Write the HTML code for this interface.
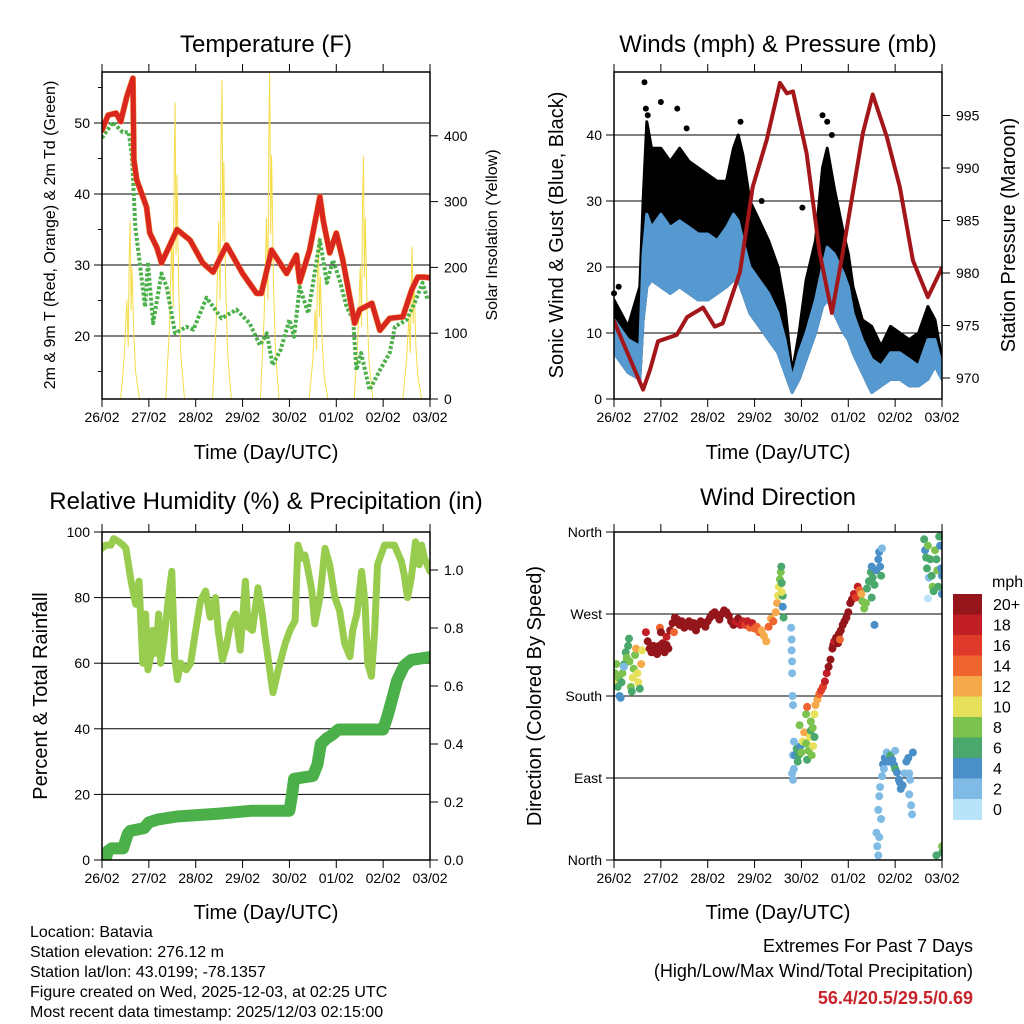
<!DOCTYPE html>
<html><head><meta charset="utf-8"><style>
html,body{margin:0;padding:0;background:#fff;}
svg{display:block;font-family:"Liberation Sans",Arial,sans-serif;}
</style></head><body>
<svg id="chart" width="1024" height="1024" viewBox="0 0 1024 1024" xmlns="http://www.w3.org/2000/svg">
<rect x="0" y="0" width="1024" height="1024" fill="#fff"/>
<text x="266" y="52" font-size="24" text-anchor="middle">Temperature (F)</text>
<text x="778" y="52" font-size="24" text-anchor="middle">Winds (mph) &amp; Pressure (mb)</text>
<text x="266" y="509" font-size="24" text-anchor="middle">Relative Humidity (%) &amp; Precipitation (in)</text>
<text x="778" y="505" font-size="24" text-anchor="middle">Wind Direction</text>
<text transform="translate(55,235) rotate(-90)" font-size="16" text-anchor="middle">2m &amp; 9m T (Red, Orange) &amp; 2m Td (Green)</text>
<text transform="translate(497,235) rotate(-90)" font-size="16" text-anchor="middle">Solar Insolation (Yellow)</text>
<text transform="translate(563,235) rotate(-90)" font-size="20" text-anchor="middle">Sonic Wind &amp; Gust (Blue, Black)</text>
<text transform="translate(1015,235) rotate(-90)" font-size="20" text-anchor="middle">Station Pressure (Maroon)</text>
<text transform="translate(47,696) rotate(-90)" font-size="20" text-anchor="middle">Percent &amp; Total Rainfall</text>
<text transform="translate(541,696) rotate(-90)" font-size="20" text-anchor="middle">Direction (Colored By Speed)</text>
<text x="266" y="459" font-size="20" text-anchor="middle">Time (Day/UTC)</text>
<text x="778" y="459" font-size="20" text-anchor="middle">Time (Day/UTC)</text>
<text x="266" y="919" font-size="20" text-anchor="middle">Time (Day/UTC)</text>
<text x="778" y="919" font-size="20" text-anchor="middle">Time (Day/UTC)</text>
<g font-size="16">
<text x="30" y="937">Location: Batavia</text>
<text x="30" y="957">Station elevation: 276.12 m</text>
<text x="30" y="977">Station lat/lon: 43.0199; -78.1357</text>
<text x="30" y="997">Figure created on Wed, 2025-12-03, at 02:25 UTC</text>
<text x="30" y="1017">Most recent data timestamp: 2025/12/03 02:15:00</text>
</g>
<text x="973" y="952" font-size="18" text-anchor="end">Extremes For Past 7 Days</text>
<text x="973" y="977" font-size="18" text-anchor="end">(High/Low/Max Wind/Total Precipitation)</text>
<text x="973" y="1004" font-size="18" font-weight="bold" fill="#c8232b" text-anchor="end">56.4/20.5/29.5/0.69</text>
<g id="layer"></g>
</svg>
<script>
// ---------- DATA ----------
const dayLabels = ["26/02","27/02","28/02","29/02","30/02","01/02","02/02","03/02"];
// Temperature (F)
const tempT = [0,0.13,0.3,0.4,0.53,0.66,0.68,0.74,0.95,1.02,1.17,1.27,1.45,1.6,1.88,2.15,2.37,2.66,3.0,3.3,3.4,3.62,3.94,4.15,4.22,4.43,4.65,4.72,4.86,5.0,5.14,5.39,5.5,5.76,5.93,6.14,6.42,6.61,6.74,6.88,7.0];
const tempV = [49,51.1,51.4,50.2,53.7,56.3,44.8,42,38.2,34.5,32.5,30.3,32.8,35,33.5,30.3,29,32.8,28.8,26,26,32.1,28.8,31.4,27.6,32.1,39.6,36.3,31.7,34.5,30.7,21.8,23.7,24.6,20.8,22.5,22.7,26.5,28.3,28.3,28.2];
const dewT = [0,0.23,0.44,0.57,0.64,0.71,0.92,0.98,1.09,1.27,1.38,1.56,1.8,1.95,2.23,2.55,2.87,3.15,3.37,3.52,3.64,3.81,4.0,4.1,4.22,4.4,4.65,4.8,4.93,5.07,5.22,5.36,5.43,5.53,5.71,5.93,6.14,6.25,6.5,6.67,6.84,6.95];
const dewV = [47.9,50.1,48.7,48.7,45.2,35.4,24.1,30.4,21.8,28.8,26.9,20.4,21.3,20.9,25.4,22.5,23.7,21.8,18.7,20.4,15.9,18,22.3,19.9,26.9,23.2,33.5,27.5,30.7,27.9,24.1,22.3,15.2,17.6,12.4,15.2,17.6,21.3,22.3,24.6,27.5,25.1];
const solarT = [0.40,0.48,0.53,0.56,0.58,0.60,0.62,0.64,0.68,0.72,0.80,
 1.36,1.44,1.49,1.52,1.54,1.56,1.58,1.60,1.64,1.68,1.76,
 2.36,2.44,2.49,2.52,2.54,2.56,2.58,2.60,2.64,2.68,2.76,
 3.38,3.46,3.51,3.54,3.56,3.58,3.60,3.62,3.66,3.70,3.78,
 4.42,4.50,4.55,4.58,4.60,4.62,4.64,4.66,4.70,4.74,4.82,
 5.38,5.46,5.51,5.54,5.56,5.58,5.60,5.62,5.66,5.70,5.78,
 6.42,6.50,6.55,6.58,6.60,6.62,6.64,6.66,6.70,6.74,6.82];
const solarV = [0,70,150,80,215,270,135,200,95,40,0,
 0,110,250,140,360,450,220,340,160,70,0,
 0,120,270,150,390,485,240,360,170,70,0,
 0,125,275,150,400,497,250,370,175,75,0,
 0,60,135,75,200,246,125,185,85,35,0,
 0,90,200,110,295,368,185,275,130,55,0,
 0,60,125,70,185,231,115,175,80,35,0];
// Winds (mph)
const windT  = [0,0.3,0.55,0.62,0.7,0.8,1.0,1.2,1.4,1.6,1.8,2.0,2.2,2.4,2.55,2.65,2.75,2.9,3.1,3.3,3.5,3.65,3.8,3.95,4.1,4.3,4.45,4.55,4.7,4.9,5.0,5.1,5.3,5.5,5.7,5.9,6.1,6.3,6.5,6.7,6.85,7.0];
const windLo = [7,4,3,12,17,18,17,16,17,16,15,15,16,17,18,18,16,13,11,9,7,4,1,3,6,10,14,15,13,10,9,7,4,1,2,3,3,2,2,3,5,3];
const windHi = [12,9,8,22,28,26,28,26,27,26,25,25,24,26,28,27,24,20,18,16,13,9,3,7,10,15,20,23,22,19,17,13,9,6,5,7,7,6,5,9,9,5];
const gustHi = [15,11,17,30,42,38,38,36,38,36,35,34,33,33,38,40,37,30,27,24,20,14,4,10,18,24,35,38,32,25,22,17,12,11,8,11,10,9,10,14,12,6];
const gustDotT = [0.65,0.68,0.72,1.0,1.35,1.55,2.7,4.45,4.55,4.65,4.02,3.15,0.0,0.1];
const gustDotV = [48,44,43,45,44,41,42,43,42,40,29,30,16,17];
const presT = [0,0.62,0.77,0.94,1.34,1.56,1.9,2.15,2.32,2.69,2.96,3.26,3.54,3.69,3.82,4.11,4.39,4.65,4.88,5.31,5.52,5.82,6.1,6.38,6.7,7.0];
const presV = [975.4,968.9,970.8,973.5,974.1,975.8,976.7,974.9,975.2,980.1,988.2,992.7,998.1,997.1,997.3,991.4,981.9,976.2,981.9,993.3,997,993,988.2,981.2,977.7,980.5];
// Humidity & precipitation
const rhT = [0,0.08,0.19,0.25,0.36,0.45,0.51,0.62,0.72,0.79,0.87,0.93,0.98,1.04,1.08,1.15,1.21,1.25,1.32,1.42,1.49,1.55,1.61,1.68,1.8,1.89,2.0,2.1,2.21,2.31,2.42,2.48,2.57,2.65,2.74,2.85,2.95,3.06,3.12,3.21,3.33,3.42,3.48,3.59,3.65,3.76,3.91,4.01,4.12,4.18,4.27,4.33,4.39,4.48,4.54,4.65,4.76,4.86,4.97,5.07,5.18,5.29,5.35,5.44,5.54,5.61,5.67,5.75,5.82,5.88,6.03,6.24,6.39,6.45,6.52,6.6,6.69,6.77,6.82,6.88,7.0];
const rhV = [95,96,96,98,97,96,95,85,78,85,60,75,58,62,70,63,75,60,67,80,88,62,55,60,58,60,70,79,82,74,80,70,61,65,72,75,64,85,71,70,83,75,68,57,51,58,66,70,73,96,92,93,89,82,72,80,95,90,80,76,66,62,70,75,88,79,60,56,70,90,96,96,91,87,80,86,97,90,96,92,88];
const precipT = [0,0.08,0.12,0.2,0.45,0.55,0.6,0.9,1.0,1.2,1.6,2.5,3.2,4.0,4.05,4.1,4.5,4.6,4.67,4.8,4.9,5.05,6.0,6.1,6.2,6.3,6.45,6.6,7.0];
const precipV = [0,0,0.03,0.04,0.04,0.09,0.10,0.11,0.13,0.14,0.15,0.16,0.17,0.17,0.22,0.28,0.29,0.33,0.40,0.42,0.43,0.45,0.45,0.50,0.56,0.62,0.67,0.69,0.70];
// Wind direction (deg) and speed (mph)
const dirT = [0.02,0.03,0.05,0.08,0.1,0.12,0.14,0.16,0.18,0.22,0.25,0.27,0.3,0.33,0.36,0.38,0.4,0.42,0.45,0.47,0.5,0.52,0.55,0.58,0.6,0.32,0.21,
0.68,0.72,0.76,0.8,0.84,0.88,0.92,0.96,1.0,1.04,1.08,1.12,1.16,0.98,1.0,1.12,1.2,1.25,1.3,1.35,1.28,1.4,1.45,1.5,1.55,1.6,1.65,1.7,1.75,1.8,1.85,1.9,1.95,2.0,2.05,2.1,2.15,2.2,2.25,2.3,2.35,2.4,2.45,2.5,2.55,2.6,2.65,2.7,
2.75,2.8,2.85,2.9,2.95,3.0,3.05,3.1,3.15,3.2,3.25,3.3,3.35,3.4,
3.45,3.48,3.5,3.52,3.54,3.56,3.57,3.58,3.6,3.6,3.62,3.58,
3.78,3.79,3.79,3.8,3.8,3.81,3.82,
3.8,3.82,3.84,3.82,3.84,3.86,3.9,3.94,3.98,3.92,4.0,4.03,4.06,4.1,4.12,4.15,4.18,4.2,4.22,4.25,4.28,4.24,3.96,4.1,4.12,4.2,
4.28,4.3,4.34,4.38,4.42,4.46,4.5,4.54,4.58,4.62,4.66,4.68,4.7,4.74,4.78,4.8,4.82,4.84,4.88,4.92,4.96,5.0,5.04,5.08,5.12,5.16,5.2,5.24,5.28,5.3,5.34,5.38,5.4,5.44,5.48,5.5,5.52,5.56,5.6,5.64,5.66,5.68,5.7,5.72,5.5,5.56,
5.6,5.62,5.64,5.66,5.68,5.72,5.64,5.7,5.66,5.74,5.78,5.82,5.86,5.9,5.94,5.98,6.0,6.04,6.08,6.12,6.16,6.2,6.24,6.28,6.3,6.32,6.34,6.36,6.3,6.38,5.76,6.1,6.0,
6.62,6.64,6.66,6.68,6.7,6.72,6.75,6.78,6.8,6.82,6.85,6.88,6.9,6.92,6.94,6.96,6.98,7.0,7.0,6.7,
6.88,7.0,7.0];
const dirDeg = [205,195,215,190,200,180,178,195,205,215,228,222,235,218,190,185,200,210,225,232,205,195,188,215,230,243,212,
250,240,232,228,235,230,226,235,230,238,228,236,232,255,250,245,252,260,266,264,250,258,262,255,258,262,256,260,252,258,262,260,256,262,266,270,272,268,264,270,274,272,268,262,258,262,265,258,
262,258,262,255,260,254,256,250,252,246,240,256,265,262,
272,282,290,300,308,316,322,304,290,278,266,294,
255,242,230,218,205,180,170,
95,88,100,115,130,115,122,115,125,108,118,130,140,128,110,120,135,142,115,125,135,145,148,160,168,152,
160,170,176,182,186,190,196,205,212,220,232,236,240,244,238,248,242,252,258,262,266,272,282,286,292,288,300,296,292,284,276,282,298,306,316,322,310,302,318,330,338,322,312,342,288,258,
30,15,55,70,80,92,5,45,25,105,112,118,108,115,110,104,100,96,88,78,82,95,108,112,95,88,60,50,72,118,100,85,120,
352,340,332,320,345,310,330,312,300,295,340,330,318,300,355,345,320,312,292,287,
5,15,8];
const dirSpd = [8,10,8,6,8,4,4,6,8,6,6,8,6,8,8,6,10,8,8,12,10,10,6,12,10,6,2,
18,20,20,20,20,20,20,20,20,20,20,20,20,14,20,18,20,20,20,20,14,20,20,20,20,20,20,20,20,20,20,20,20,20,20,20,20,20,20,20,20,20,20,20,20,18,20,18,
18,16,18,14,18,14,14,14,12,12,12,14,12,14,
12,12,10,10,8,8,6,6,6,4,6,10,
2,2,2,2,2,2,2,
2,2,2,2,2,4,6,6,4,6,8,10,12,8,6,8,10,6,8,10,6,8,8,8,14,8,
10,12,12,14,16,16,18,18,20,20,20,20,18,20,20,20,14,20,20,20,20,20,20,20,18,16,18,14,12,8,8,8,6,6,6,4,6,6,4,4,4,4,6,2,6,4,
2,2,2,2,2,2,2,2,2,4,4,2,4,6,4,4,6,4,4,4,4,2,4,4,2,2,2,2,2,4,2,4,2,
6,4,6,6,8,2,6,6,8,6,8,6,8,6,6,4,4,4,4,0,
6,8,6];
const speedLabels = ["0","2","4","6","8","10","12","14","16","18","20+"];
const speedColors = ["#b8e3f8","#7fbbe5","#4a8fc8","#4aa86c","#7cc24f","#e6e05a","#f6a94a","#ef6530","#df3a2a","#c11f25","#94161b"];
const tempTicks = [20,30,40,50];
const tempMinor = [15,25,35,45,55];
const solarTicks = [0,100,200,300,400];
const windTicks = [0,10,20,30,40];
const presTicks = [970,975,980,985,990,995];
const rhTicks = [0,20,40,60,80,100];
const precipTicks = [0.0,0.2,0.4,0.6,0.8,1.0];
const dirTicks = [0,90,180,270,360];
const dirNames = ["North","East","South","West","North"];

// ---------- SCALES ----------
const P1 = {l:102,r:430,t:72,b:399};
const P2 = {l:614,r:942,t:72,b:399};
const P3 = {l:102,r:430,t:532,b:860};
const P4 = {l:614,r:942,t:532,b:860};
const DAY = (430-102)/7;
const x1 = d => P1.l + d*DAY;
const x2 = d => P2.l + d*DAY;
const yT = v => 336 - (v-20)*7.1;
const yS = v => 399 - v*0.658;
const yW = v => 399 - v*6.6;
const yP = v => 378 - (v-970)*10.5;
const yRH = v => 860 - v*3.28;
const yPr = v => 860 - v*290;
const yDir = v => 860 - v*(328/360);

const NS = "http://www.w3.org/2000/svg";
const layer = document.getElementById('layer');
function el(tag, parent){ const e=document.createElementNS(NS,tag); (parent||layer).appendChild(e); return e; }
function clip(id,P){
  const defs = el('defs');
  
  
  const cp = el('clipPath',defs); cp.setAttribute('id',id);
  const r = el('rect',cp); r.setAttribute('x',P.l); r.setAttribute('y',P.t); r.setAttribute('width',P.r-P.l); r.setAttribute('height',P.b-P.t);
}
clip('c1',P1); clip('c2',P2); clip('c3',P3); clip('c4',P4);
function pts(ts,vs,fx,fy){ return ts.map((t,i)=>fx(t).toFixed(1)+','+fy(vs[i]).toFixed(1)).join(' '); }
function line(x1_,y1_,x2_,y2_,stroke,w){ const l=el('line'); l.setAttribute('x1',x1_); l.setAttribute('y1',y1_); l.setAttribute('x2',x2_); l.setAttribute('y2',y2_); l.setAttribute('stroke',stroke); l.setAttribute('stroke-width',w); return l; }
function txt(x,y,s,anchor,size){ const t=el('text'); t.setAttribute('x',x); t.setAttribute('y',y); t.setAttribute('font-size',size||14); t.setAttribute('text-anchor',anchor); t.textContent=s; return t; }

function gridAndFrame(P,leftVals,leftFn,fmtL,rightVals,rightFn,fmtR,name,leftMinor){
  leftVals.forEach(v=>{
    const y=leftFn(v);
    if(y>P.t+2 && y<P.b-2){ const g=line(P.l,y,P.r,y,'#000',1);
      
       }
    const tk=line(P.l-8,y,P.l,y,'#000',1);
    
    
    const lb=txt(P.l-12,y+5,fmtL(v),'end');
    
    
  });
  (leftMinor||[]).forEach(v=>{ const y=leftFn(v); if(y<P.t||y>P.b) return;
    const tk=line(P.l-4,y,P.l,y,'#000',1);
    
     });
  rightVals.forEach(v=>{
    const y=rightFn(v);
    const tk=line(P.r,y,P.r+8,y,'#000',1);
    
    
    const lb=txt(P.r+14,y+5,fmtR(v),'start');
    
    
  });
  for(let d=0; d<=7; d++){
    const x=P.l+d*DAY;
    const a=line(x,P.b,x,P.b+8,'#000',1);
    
    
    const b=line(x,P.t-8,x,P.t,'#000',1);
    
    
    const lb=txt(x,P.b+23,dayLabels[d],'middle');
    
    
  }
}
function frame(P,name){
  const r=el('rect'); r.setAttribute('x',P.l); r.setAttribute('y',P.t); r.setAttribute('width',P.r-P.l); r.setAttribute('height',P.b-P.t);
  r.setAttribute('fill','none'); r.setAttribute('stroke','#000'); r.setAttribute('stroke-width',1.5);
  
  
}
function poly(ts,vs,fx,fy,stroke,w,clipId,name,dash){
  const p=el('polyline'); p.setAttribute('points',pts(ts,vs,fx,fy)); p.setAttribute('fill','none');
  p.setAttribute('stroke',stroke); p.setAttribute('stroke-width',w); p.setAttribute('stroke-linejoin','round');
  p.setAttribute('stroke-linecap', dash ? 'butt' : 'round');
  if(dash) p.setAttribute('stroke-dasharray',dash);
  p.setAttribute('clip-path','url(#'+clipId+')');
  
  
  return p;
}
function band(ts,lo,hi,fx,fy,fill,clipId,name){
  const up=ts.map((t,i)=>fx(t).toFixed(1)+','+fy(hi[i]).toFixed(1));
  const dn=ts.map((t,i)=>fx(t).toFixed(1)+','+fy(lo[i]).toFixed(1)).reverse();
  const p=el('polygon'); p.setAttribute('points',up.concat(dn).join(' ')); p.setAttribute('fill',fill);
  p.setAttribute('stroke',fill); p.setAttribute('stroke-width',3); p.setAttribute('stroke-linejoin','round');
  p.setAttribute('clip-path','url(#'+clipId+')');
  
  
}

// Panel 1: temperature
gridAndFrame(P1,tempTicks,yT,v=>String(v),solarTicks,yS,v=>String(v),'temperature',tempMinor);
poly(solarT,solarV,x1,yS,'#f5dc4a',1,'c1','solar-insolation-line');
poly(dewT,dewV,x1,yT,'#4cb04a',4,'c1','dewpoint-line','3,2');
poly(tempT,tempV,x1,yT,'#f08a30',6,'c1','temperature-9m-line');
poly(tempT,tempV,x1,yT,'#d9261e',5,'c1','temperature-2m-line');
frame(P1,'temperature');

// Panel 2: winds
gridAndFrame(P2,windTicks,yW,v=>String(v),presTicks,yP,v=>String(v),'winds');
band(windT,windLo,gustHi,x2,yW,'#000','c2','gust-band');
band(windT,windLo,windHi,x2,yW,'#5599d0','c2','wind-band');
gustDotT.forEach((t,i)=>{
  const c=el('circle'); c.setAttribute('cx',x2(t)); c.setAttribute('cy',yW(gustDotV[i])); c.setAttribute('r',3); c.setAttribute('fill','#000');
  
  
});
poly(presT,presV,x2,yP,'#a3161a',4,'c2','pressure-line');
frame(P2,'winds');

// Panel 3: humidity & precip
gridAndFrame(P3,rhTicks,yRH,v=>String(v),precipTicks,yPr,v=>v.toFixed(1),'humidity');
poly(rhT,rhV,x1,yRH,'#98cc4f',7,'c3','humidity-line');
poly(precipT,precipV,x1,yPr,'#4cb04a',12,'c3','precipitation-line');
frame(P3,'humidity');

// Panel 4: wind direction
gridAndFrame(P4,dirTicks,yDir,v=>dirNames[dirTicks.indexOf(v)],[],yDir,v=>'','direction');
dirT.forEach((t,i)=>{
  const c=el('circle'); c.setAttribute('cx',x2(t).toFixed(1)); c.setAttribute('cy',yDir(dirDeg[i]).toFixed(1)); c.setAttribute('r',4);
  c.setAttribute('fill',speedColors[Math.min(10,Math.floor(dirSpd[i]/2))]);
  c.setAttribute('clip-path','url(#c4)');
  
  
});
frame(P4,'direction');

// Colorbar
const cbTop=594, cbH=20.5;
const mph=txt(992,587,'mph','start',16);


for(let i=0;i<11;i++){
  const k=10-i;
  const r=el('rect'); r.setAttribute('x',953); r.setAttribute('y',cbTop+i*cbH); r.setAttribute('width',29); r.setAttribute('height',cbH+0.5); r.setAttribute('fill',speedColors[k]);
  
  
  const t=txt(993,cbTop+i*cbH+16,speedLabels[k],'start',16);
  
  
}
</script>
</body></html>
